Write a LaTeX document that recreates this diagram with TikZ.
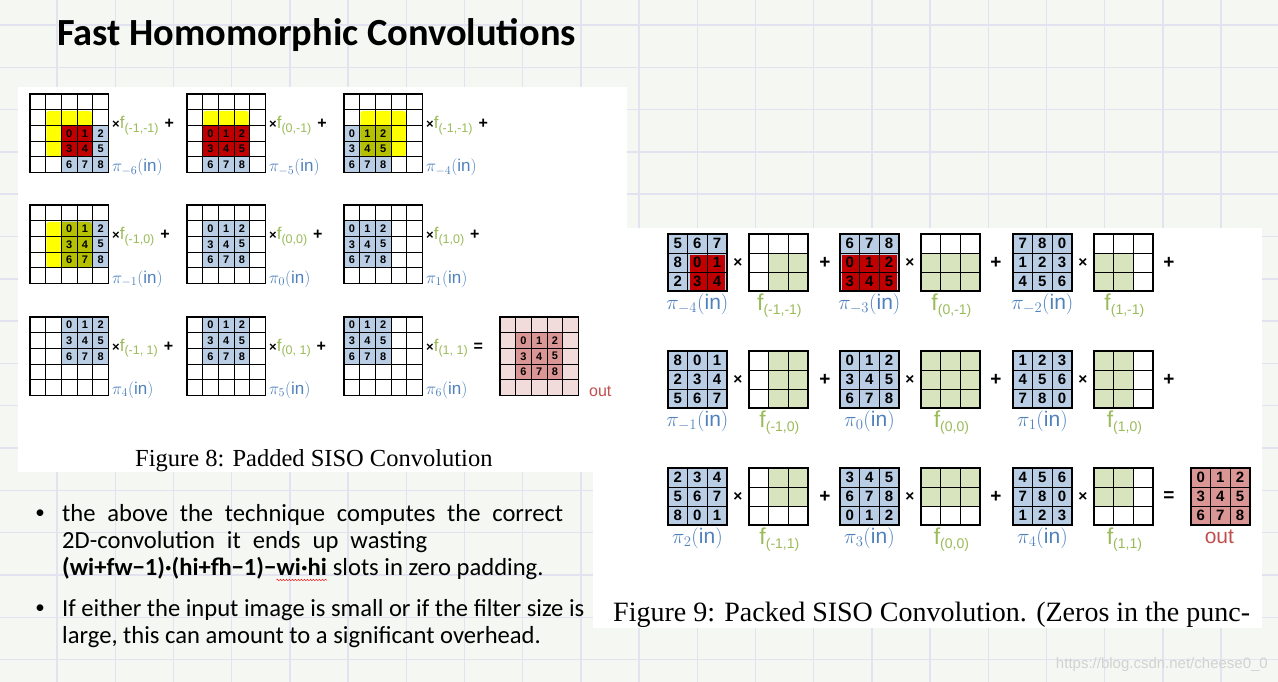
\RequirePackage{fix-cm}
\documentclass[tikz,border=0pt]{standalone}
\usepackage{fontspec}
\setmainfont{Liberation Sans}
\newfontfamily\calfont{Carlito}
\newfontfamily\tmsfont{Liberation Serif}
\usetikzlibrary{decorations.pathmorphing}
\definecolor{bgc}{HTML}{F5F7F2}
\definecolor{bgl}{HTML}{E2E2F0}
\definecolor{cblue}{HTML}{B9CDE5}
\definecolor{cred}{HTML}{C00000}
\definecolor{cyel}{HTML}{FFFF00}
\definecolor{colive}{HTML}{B4C000}
\definecolor{cgreen}{HTML}{D7E4BD}
\definecolor{fgreen}{HTML}{9BBB59}
\definecolor{pblue}{HTML}{4F81BD}
\definecolor{plight}{HTML}{F2DCDB}
\definecolor{pdark}{HTML}{DA9694}
\definecolor{outred}{HTML}{C0504D}
\definecolor{wmc}{HTML}{D2D2D2}
\tikzset{
  bgline/.style={bgl, line width=1.4pt},
  gA/.style={black, line width=0.8pt},
  gAo/.style={black, line width=1.1pt},
  gB/.style={black, line width=1.1pt},
  gBo/.style={black, line width=1.7pt},
  numA/.style={font=\bfseries\fontsize{11}{11}\selectfont, inner sep=0pt},
  numB/.style={font=\bfseries\fontsize{15}{15}\selectfont, inner sep=0pt},
  flabA/.style={anchor=base west, inner sep=0pt},
  pilabA/.style={anchor=base west, inner sep=0pt, text=pblue, font=\fontsize{17}{17}\selectfont},
  pilabB/.style={anchor=base, inner sep=0pt, text=pblue, font=\fontsize{21}{21}\selectfont},
  flabB/.style={anchor=base, inner sep=0pt, text=fgreen, font=\fontsize{23}{23}\selectfont},
  opB/.style={inner sep=0pt, font=\bfseries\fontsize{19}{19}\selectfont},
  timesB/.style={inner sep=0pt, font=\bfseries\fontsize{15.5}{15.5}\selectfont},
  btext/.style={anchor=base west, inner sep=0pt, font=\calfont\fontsize{24.6}{24.6}\selectfont},
  bdot/.style={inner sep=0pt, font=\calfont\fontsize{19}{19}\selectfont},
}
\def\cA{15.7}
\def\cwB{19.6}
\def\chB{19.1}
% Figure 8 helpers
\newcommand\cellsA[7]{\fill[#7] ({#1+#4*\cA},{#2+#3*\cA}) rectangle ({#1+(#6+1)*\cA},{#2+(#5+1)*\cA});}
\newcommand\linesA[2]{%
  \foreach \i in {1,...,4}{%
    \draw[gA] ({#1+\i*\cA},#2) -- ({#1+\i*\cA},{#2+5*\cA});
    \draw[gA] (#1,{#2+\i*\cA}) -- ({#1+5*\cA},{#2+\i*\cA});
  }%
  \draw[gAo] (#1,#2) rectangle ({#1+5*\cA},{#2+5*\cA});}
\newcommand\numsA[5]{%
  \foreach \n in {0,...,8}{%
    \pgfmathtruncatemacro\rowi{#3+int(\n/3)}%
    \pgfmathtruncatemacro\coli{#4+mod(\n,3)}%
    \node[numA] (#5-\n) at ({#1+(\coli+0.5)*\cA},{#2+(\rowi+0.5)*\cA}) {\n};
  }}
\newcommand\yelA[2]{\fill[cyel, rounded corners=2.5pt] ({#1+\cA+0.6},{#2+\cA+1.2}) rectangle ({#1+4*\cA-1},{#2+4*\cA-0.4});}
\newcommand\yelclipA[2]{\clip[rounded corners=2.5pt] ({#1+\cA+0.6},{#2+\cA+1.2}) rectangle ({#1+4*\cA-1},{#2+4*\cA-0.4});}
\newcommand\flA[2]{{\fontsize{13}{13}\selectfont\bfseries ×}\textcolor{fgreen}{\fontsize{17}{17}\selectfont f\raisebox{-3.5pt}{\fontsize{12.5}{12.5}\selectfont #1}}\hspace{6pt}{\bfseries\fontsize{16}{16}\selectfont #2}}
% Figure 9 helpers
\newcommand\cellB[5]{\fill[#5] ({#1+#4*\cwB},{#2+#3*\chB}) rectangle ++(\cwB,\chB);}
\newcommand\linesB[2]{%
  \foreach \i in {1,2}{%
    \draw[gB] ({#1+\i*\cwB},#2) -- ++(0,{3*\chB});
    \draw[gB] (#1,{#2+\i*\chB}) -- ++({3*\cwB},0);
  }%
  \draw[gBo] (#1,#2) rectangle ++({3*\cwB},{3*\chB});}
\newcommand\numsB[4]{%
  \foreach \d [count=\k from 0] in {#3}{%
    \pgfmathtruncatemacro\rowi{int(\k/3)}%
    \pgfmathtruncatemacro\coli{mod(\k,3)}%
    \node[numB] (#4-\k) at ({#1+(\coli+0.5)*\cwB},{#2+(\rowi+0.5)*\chB}) {\d};
  }}
\newcommand\blueB[2]{\fill[cblue] (#1,#2) rectangle ++({3*\cwB},{3*\chB});}
\newcommand\redB[6]{\fill[cred] ({#1+#4*\cwB+2},{#2+#3*\chB+1.5}) rectangle ({#1+(#6+1)*\cwB-2},{#2+(#5+1)*\chB-1.5});}
\newcommand\filtB[3]{\foreach \rw/\cl in {#3}{\cellB{#1}{#2}{\rw}{\cl}{cgreen}}\linesB{#1}{#2}}
\newcommand\fsubB[1]{f\raisebox{-4.5pt}{\fontsize{14}{14}\selectfont #1}}
\begin{document}
\begin{tikzpicture}[x=1pt,y=-1pt]
\useasboundingbox (0,0) rectangle (1278,682);
\fill[bgc] (0,0) rectangle (1278,682);
\foreach \k in {0,...,21} \draw[bgline] ({57+58.2*\k},0) -- ({57+58.2*\k},682);
\foreach \k in {0,...,15} \draw[bgline] (0,{25+42.3*\k}) -- (1278,{25+42.3*\k});
\fill[white] (18,87) rectangle (627,472);
\fill[white] (593,228) rectangle (1262,628);

\node[anchor=base west, inner sep=0pt, font=\calfont\bfseries\fontsize{38.4}{38.4}\selectfont] (title) at (57,46) {Fast Homomorphic Convolutions};

% ---------- Figure 8 ----------
% row 1
\yelA{30}{94}
\cellsA{30}{94}{2}{2}{4}{4}{cblue}
\cellsA{30}{94}{2}{2}{3}{3}{cred}
\linesA{30}{94}
\numsA{30}{94}{2}{2}{ga}
\yelA{187}{94}
\cellsA{187}{94}{2}{1}{4}{3}{cblue}
\cellsA{187}{94}{2}{1}{3}{3}{cred}
\linesA{187}{94}
\numsA{187}{94}{2}{1}{gb}
\yelA{344}{94}
\cellsA{344}{94}{2}{0}{4}{2}{cblue}
\begin{scope}\yelclipA{344}{94}\cellsA{344}{94}{2}{0}{4}{2}{colive}\end{scope}
\linesA{344}{94}
\numsA{344}{94}{2}{0}{gc}
% row 2
\yelA{30}{205}
\cellsA{30}{205}{1}{2}{3}{4}{cblue}
\begin{scope}\yelclipA{30}{205}\cellsA{30}{205}{1}{2}{3}{4}{colive}\end{scope}
\linesA{30}{205}
\numsA{30}{205}{1}{2}{gd}
\cellsA{187}{205}{1}{1}{3}{3}{cblue}
\linesA{187}{205}
\numsA{187}{205}{1}{1}{ge}
\cellsA{344}{205}{1}{0}{3}{2}{cblue}
\linesA{344}{205}
\numsA{344}{205}{1}{0}{gf}
% row 3
\cellsA{30}{317}{0}{2}{2}{4}{cblue}
\linesA{30}{317}
\numsA{30}{317}{0}{2}{gg}
\cellsA{187}{317}{0}{1}{2}{3}{cblue}
\linesA{187}{317}
\numsA{187}{317}{0}{1}{gh}
\cellsA{344}{317}{0}{0}{2}{2}{cblue}
\linesA{344}{317}
\numsA{344}{317}{0}{0}{gi}
\cellsA{500}{317}{0}{0}{4}{4}{plight}
\cellsA{500}{317}{1}{1}{3}{3}{pdark}
\linesA{500}{317}
\numsA{500}{317}{1}{1}{go}

% labels figure 8
\node[flabA] (fa) at (112,129) {\flA{(-1,-1)}{+}};
\node[flabA] (fb) at (269,129) {\flA{(0,-1)}{+}};
\node[flabA] (fc) at (426,129) {\flA{(-1,-1)}{+}};
\node[flabA] (fd) at (112,240) {\flA{(-1,0)}{+}};
\node[flabA] (fe) at (269,240) {\flA{(0,0)}{+}};
\node[flabA] (ff) at (426,240) {\flA{(1,0)}{+}};
\node[flabA] (fg) at (112,351) {\flA{(-1, 1)}{+}};
\node[flabA] (fh) at (269,351) {\flA{(0, 1)}{+}};
\node[flabA] (fi) at (426,351) {\flA{(1, 1)}{=}};
\node[pilabA] (pa) at (112,172) {$\pi_{-6}(\mathrm{in})$};
\node[pilabA] (pb) at (269,172) {$\pi_{-5}(\mathrm{in})$};
\node[pilabA] (pc) at (426,172) {$\pi_{-4}(\mathrm{in})$};
\node[pilabA] (pd) at (112,283) {$\pi_{-1}(\mathrm{in})$};
\node[pilabA] (pe) at (269,283) {$\pi_{0}(\mathrm{in})$};
\node[pilabA] (pf) at (426,283) {$\pi_{1}(\mathrm{in})$};
\node[pilabA] (pg) at (112,394) {$\pi_{4}(\mathrm{in})$};
\node[pilabA] (ph) at (269,394) {$\pi_{5}(\mathrm{in})$};
\node[pilabA] (pi) at (426,394) {$\pi_{6}(\mathrm{in})$};
\node[anchor=base west, inner sep=0pt, text=outred, font=\fontsize{16}{16}\selectfont] (outa) at (589,396) {out};
\node[anchor=base west, inner sep=0pt, font=\tmsfont\fontsize{24.5}{24.5}\selectfont] (cap8) at (135,466) {Figure 8: Padded SISO Convolution};

% ---------- Figure 9 ----------
% row 1
\blueB{668}{234}\redB{668}{234}{1}{1}{2}{2}\linesB{668}{234}\numsB{668}{234}{5,6,7,8,0,1,2,3,4}{qa}
\filtB{749}{234}{1/1,1/2,2/1,2/2}
\blueB{840}{234}\redB{840}{234}{1}{0}{2}{2}\linesB{840}{234}\numsB{840}{234}{6,7,8,0,1,2,3,4,5}{qb}
\filtB{921}{234}{1/0,1/1,1/2,2/0,2/1,2/2}
\blueB{1013}{234}\linesB{1013}{234}\numsB{1013}{234}{7,8,0,1,2,3,4,5,6}{qc}
\filtB{1094}{234}{1/0,1/1,2/0,2/1}
% row 2
\blueB{668}{351}\linesB{668}{351}\numsB{668}{351}{8,0,1,2,3,4,5,6,7}{qd}
\filtB{749}{351}{0/1,0/2,1/1,1/2,2/1,2/2}
\blueB{840}{351}\linesB{840}{351}\numsB{840}{351}{0,1,2,3,4,5,6,7,8}{qe}
\filtB{921}{351}{0/0,0/1,0/2,1/0,1/1,1/2,2/0,2/1,2/2}
\blueB{1013}{351}\linesB{1013}{351}\numsB{1013}{351}{1,2,3,4,5,6,7,8,0}{qf}
\filtB{1094}{351}{0/0,0/1,1/0,1/1,2/0,2/1}
% row 3
\blueB{668}{468}\linesB{668}{468}\numsB{668}{468}{2,3,4,5,6,7,8,0,1}{qg}
\filtB{749}{468}{0/1,0/2,1/1,1/2}
\blueB{840}{468}\linesB{840}{468}\numsB{840}{468}{3,4,5,6,7,8,0,1,2}{qh}
\filtB{921}{468}{0/0,0/1,0/2,1/0,1/1,1/2}
\blueB{1013}{468}\linesB{1013}{468}\numsB{1013}{468}{4,5,6,7,8,0,1,2,3}{qi}
\filtB{1094}{468}{0/0,0/1,1/0,1/1}
\fill[pdark] (1191,468) rectangle ++({3*\cwB},{3*\chB});
\linesB{1191}{468}\numsB{1191}{468}{0,1,2,3,4,5,6,7,8}{qo}

% operators figure 9
\foreach \py [count=\j] in {234,351,468}{
  \foreach \px [count=\i] in {668,840,1013}{
    \node[timesB] (x\i\j) at ({\px+70},{\py+28.5}) {×};
  }
  \node[opB] (pl1\j) at (825,{\py+28.5}) {+};
  \node[opB] (pl2\j) at (996,{\py+28.5}) {+};
}
\node[opB] (pl31) at (1169,262.5) {+};
\node[opB] (pl32) at (1169,379.5) {+};
\node[opB] (eq3) at (1169,496.5) {=};

% labels figure 9
\node[pilabB] (ra) at (697.4,309) {$\pi_{-4}(\mathrm{in})$};
\node[pilabB] (rb) at (869.4,309) {$\pi_{-3}(\mathrm{in})$};
\node[pilabB] (rc) at (1042.4,309) {$\pi_{-2}(\mathrm{in})$};
\node[pilabB] (rd) at (697.4,426) {$\pi_{-1}(\mathrm{in})$};
\node[pilabB] (re) at (869.4,426) {$\pi_{0}(\mathrm{in})$};
\node[pilabB] (rf) at (1042.4,426) {$\pi_{1}(\mathrm{in})$};
\node[pilabB] (rg) at (697.4,543) {$\pi_{2}(\mathrm{in})$};
\node[pilabB] (rh) at (869.4,543) {$\pi_{3}(\mathrm{in})$};
\node[pilabB] (ri) at (1042.4,543) {$\pi_{4}(\mathrm{in})$};
\node[flabB] (sa) at (779.4,310) {\fsubB{(-1,-1)}};
\node[flabB] (sb) at (951.4,310) {\fsubB{(0,-1)}};
\node[flabB] (sc) at (1124.4,310) {\fsubB{(1,-1)}};
\node[flabB] (sd) at (779.4,427) {\fsubB{(-1,0)}};
\node[flabB] (se) at (951.4,427) {\fsubB{(0,0)}};
\node[flabB] (sf) at (1124.4,427) {\fsubB{(1,0)}};
\node[flabB] (sg) at (779.4,544) {\fsubB{(-1,1)}};
\node[flabB] (sh) at (951.4,544) {\fsubB{(0,0)}};
\node[flabB] (si) at (1124.4,544) {\fsubB{(1,1)}};
\node[anchor=base, inner sep=0pt, text=outred, font=\fontsize{21}{21}\selectfont] (outb) at (1219.4,543) {out};
\begin{scope}
\clip (593,228) rectangle (1262,628);
\node[anchor=base west, inner sep=0pt, font=\tmsfont\fontsize{28}{28}\selectfont] (cap9) at (613,621) {Figure 9: Packed SISO Convolution. (Zeros in the punc-};
\end{scope}

% ---------- bullets ----------
\node[bdot] (bu1) at (40,514) {•};
\node[btext] (l1) at (62,521) {\makebox[501pt][s]{the above the technique computes the correct}};
\node[btext] (l2) at (62,548) {\makebox[365pt][s]{2D-convolution it ends up wasting}};
\node[btext] (l3a) at (62,575) {\bfseries (wi+fw−1)·(hi+fh−1)−};
\node[btext] (l3b) at (l3a.base east) {\bfseries wi·hi};
\node[btext] (l3c) at (l3b.base east) {\ slots in zero padding.};
\draw[red, line width=0.5pt, decorate, decoration={snake, amplitude=0.7pt, segment length=3pt}] ([yshift=-5pt]l3b.base west) -- ([yshift=-5pt]l3b.base east);
\node[bdot] (bu2) at (40,609) {•};
\node[btext] (l4) at (62,616) {If either the input image is small or if the filter size is};
\node[btext] (l5) at (62,643) {large, this can amount to a significant overhead.};

\node[anchor=base east, inner sep=0pt, text=wmc, font=\fontsize{15}{15}\selectfont] (wm) at (1268,668) {https://blog.csdn.net/cheese0\_0};
\end{tikzpicture}
\end{document}
